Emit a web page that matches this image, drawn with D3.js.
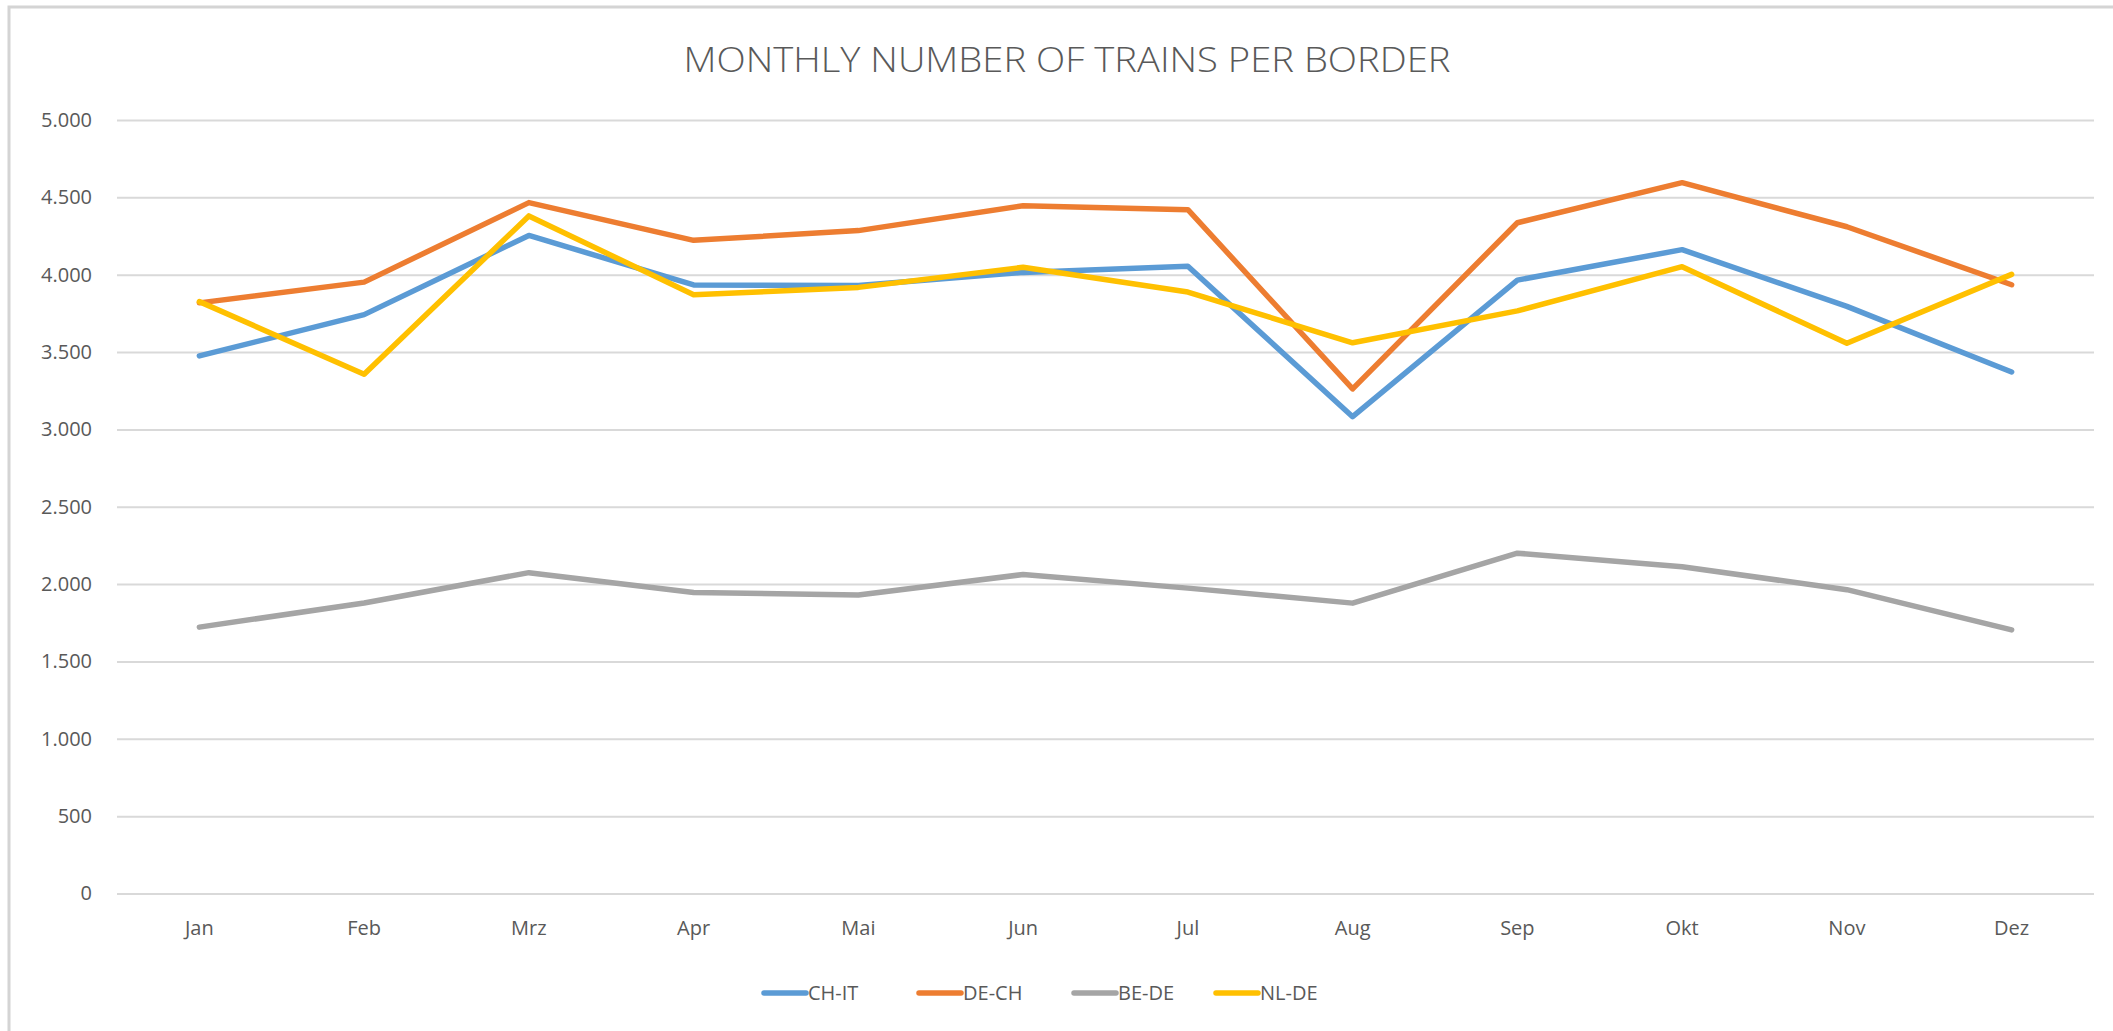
<!DOCTYPE html>
<html lang="de">
<head>
<meta charset="UTF-8">
<title>Monthly number of trains per border</title>
<script src="https://d3js.org/d3.v7.min.js"></script>
<style>
  body { margin: 0; background: #fff; }
  text { font-family: "Open Sans", "Liberation Sans", sans-serif; fill: #595959; }
</style>
</head>
<body>
<div id="chart"></div>
<script>
// data
const months = ["Jan", "Feb", "Mrz", "Apr", "Mai", "Jun", "Jul", "Aug", "Sep", "Okt", "Nov", "Dez"];
const chIt = [3475, 3742, 4254, 3934, 3930, 4015, 4055, 3082, 3965, 4162, 3795, 3371];
const deCh = [3818, 3952, 4466, 4222, 4285, 4446, 4420, 3262, 4336, 4595, 4310, 3935];
const beDe = [1722, 1878, 2074, 1946, 1930, 2062, 1974, 1877, 2200, 2112, 1964, 1704];
const nlDe = [3826, 3357, 4380, 3870, 3918, 4048, 3888, 3560, 3766, 4052, 3557, 4002];
const yTicks = [0, 500, 1000, 1500, 2000, 2500, 3000, 3500, 4000, 4500, 5000];

const seriesNames = ["CH-IT", "DE-CH", "BE-DE", "NL-DE"];
const seriesValues = [chIt, deCh, beDe, nlDe];
const colors = ["#5B9BD5", "#ED7D31", "#A5A5A5", "#FFC000"];

const W = 2113, H = 1031;
const plotLeft = 117, plotRight = 2094, plotTop = 120, plotBottom = 893.5;

const svg = d3.select("#chart").append("svg")
  .attr("width", W).attr("height", H);

// chart frame (only left and top edges are visible in the picture)
svg.append("path")
  .attr("d", "M9,1031 V7 H2113")
  .attr("fill", "none")
  .attr("stroke", "#d4d4d4")
  .attr("stroke-width", 3);

const x = d3.scaleBand().domain(months).range([plotLeft, plotRight]);
const y = d3.scaleLinear().domain([0, 5000]).range([plotBottom, plotTop]);

const fmt = v => d3.format(",")(v).replace(/,/g, ".");

// gridlines + y labels
const yAxis = svg.append("g")
  .attr("transform", "translate(" + plotLeft + ",0)")
  .call(d3.axisLeft(y).tickValues(yTicks).tickSize(-(plotRight - plotLeft)).tickPadding(25).tickFormat(fmt));
yAxis.select(".domain").remove();
yAxis.selectAll(".tick line").attr("stroke", "#d9d9d9").attr("stroke-width", 2);
yAxis.selectAll(".tick text")
  .style("font-size", "20px")
  .attr("fill", "#595959");

// x labels
const xAxis = svg.append("g")
  .attr("transform", "translate(0," + plotBottom + ")")
  .call(d3.axisBottom(x).tickSize(0).tickPadding(27));
xAxis.select(".domain").remove();
xAxis.selectAll(".tick text")
  .style("font-size", "20px")
  .attr("fill", "#595959");

// title
svg.append("text")
  .attr("x", 1067).attr("y", 72)
  .attr("text-anchor", "middle")
  .attr("textLength", 767)
  .attr("lengthAdjust", "spacingAndGlyphs")
  .style("font-size", "35px")
  .style("font-weight", 300)
  .attr("fill", "#505050")
  .text("MONTHLY NUMBER OF TRAINS PER BORDER");

// lines
const line = d3.line()
  .x((d, i) => x(months[i]) + x.bandwidth() / 2)
  .y(d => y(d));

svg.append("g").selectAll("path")
  .data(seriesValues)
  .enter()
  .append("path")
  .attr("d", d => line(d))
  .attr("fill", "none")
  .attr("stroke", (d, i) => colors[i])
  .attr("stroke-width", 5.5)
  .attr("stroke-linejoin", "round")
  .attr("stroke-linecap", "round");

// legend
const legendX = [764, 919, 1074, 1216];
const legend = svg.append("g").selectAll("g")
  .data(seriesNames)
  .enter()
  .append("g")
  .attr("transform", (d, i) => "translate(" + legendX[i] + ",993)");
legend.append("line")
  .attr("x1", 0).attr("x2", 42)
  .attr("stroke", (d, i) => colors[i])
  .attr("stroke-width", 5.5)
  .attr("stroke-linecap", "round");
legend.append("text")
  .attr("x", 44).attr("y", 7)
  .style("font-size", "20px")
  .text(d => d);
</script>
</body>
</html>
